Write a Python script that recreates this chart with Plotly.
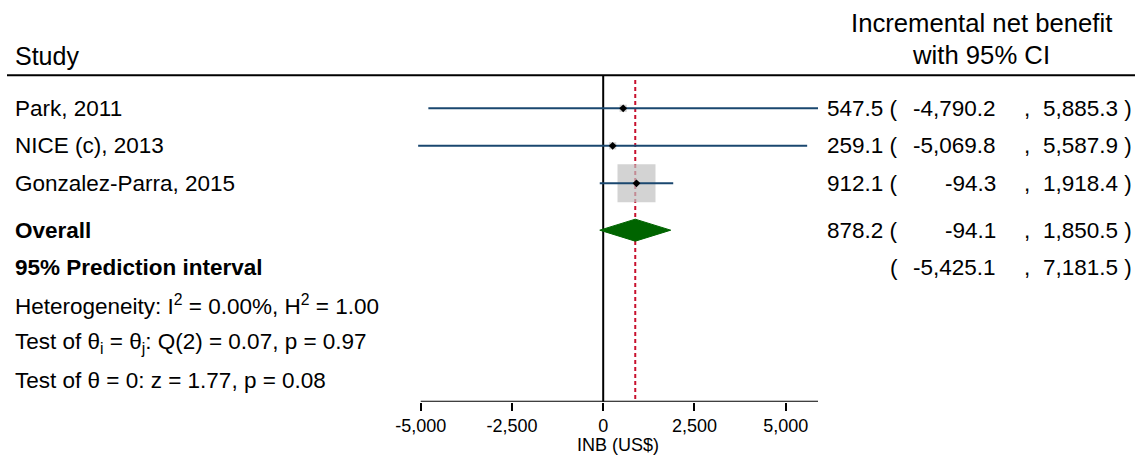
import plotly.graph_objects as go

# ---------------- data ----------------
studies = ["Park, 2011", "NICE (c), 2013", "Gonzalez-Parra, 2015"]
inb = [547.5, 259.1, 912.1]
ci_low = [-4790.2, -5069.8, -94.3]
ci_high = [5885.3, 5587.9, 1918.4]

overall_est = 878.2
overall_low = -94.1
overall_high = 1850.5
pi_low = -5425.1
pi_high = 7181.5

i2 = 0.00
h2 = 1.00
q_stat = 0.07
q_df = 2
q_p = 0.97
z_stat = 1.77
z_p = 0.08

xticks = [-5000, -2500, 0, 2500, 5000]
xtick_labels = ["-5,000", "-2,500", "0", "2,500", "5,000"]

# ---------------- layout helpers ----------------
W, H = 1135, 455
FONT = "Liberation Sans, Arial, sans-serif"

x0_px = 603.2            # pixel of value 0
px_per_unit = 0.0365     # pixels per US$
axis_px = 401.7          # x axis line
row0_px = 108.3          # first study row
row_h = 37.5             # pixels per row

def row_of(px):
    return (px - row0_px) / row_h + 1

x_range = [-x0_px / px_per_unit, (W - x0_px) / px_per_unit]
y_range = [row_of(axis_px), row_of(0)]
y_dom0 = (H - axis_px) / H

study_rows = [1 + i for i in range(len(studies))]
overall_row = 4.25
pi_row = 5.25
het_rows = [6.25, 7.25, 8.25]

# weights from CI width (inverse variance)
se = [(h - l) / (2 * 1.96) for l, h in zip(ci_low, ci_high)]
w = [1 / s ** 2 for s in se]
wmax = max(w)
box_sizes = [38 * (wi / wmax) ** 0.5 for wi in w]

fig = go.Figure()

# weight boxes
fig.add_trace(go.Scatter(
    x=inb, y=study_rows, mode="markers",
    marker=dict(symbol="square", size=box_sizes, color="#c0c0c0", line=dict(width=0)),
    hoverinfo="skip", showlegend=False))

# CI lines
cx, cy = [], []
for l, h, r in zip(ci_low, ci_high, study_rows):
    cx += [l, h, None]
    cy += [r, r, None]
fig.add_trace(go.Scatter(x=cx, y=cy, mode="lines",
                         line=dict(color="#1a476f", width=2),
                         hoverinfo="skip", showlegend=False))

# point estimates
fig.add_trace(go.Scatter(
    x=inb, y=study_rows, mode="markers",
    marker=dict(symbol="diamond", size=6, color="black", line=dict(width=0)),
    hoverinfo="skip", showlegend=False))

# overall diamond
dh = 11 / row_h
fig.add_trace(go.Scatter(
    x=[overall_low, overall_est, overall_high, overall_est, overall_low],
    y=[overall_row, overall_row - dh, overall_row, overall_row + dh, overall_row],
    mode="lines", fill="toself", fillcolor="#006400",
    line=dict(color="#006400", width=1),
    hoverinfo="skip", showlegend=False))

# ---------------- shapes ----------------
hdr_row = row_of(75.3)
shapes = [
    dict(type="line", xref="paper", yref="y", x0=7 / W, x1=1, y0=hdr_row, y1=hdr_row,
         line=dict(color="black", width=2)),
    dict(type="line", xref="x", yref="y", x0=0, x1=0, y0=hdr_row, y1=y_range[0],
         line=dict(color="black", width=2), layer="below"),
    dict(type="line", xref="x", yref="y", x0=overall_est, x1=overall_est,
         y0=row_of(80), y1=y_range[0],
         line=dict(color="#c8102e", width=2, dash="4px,3px"), layer="below"),
    dict(type="line", xref="x", yref="y", x0=xticks[0], x1=max(ci_high),
         y0=y_range[0], y1=y_range[0], line=dict(color="black", width=2)),
]

# ---------------- annotations ----------------
ann = []

def txt(px, y, text, size=22.5, align="left", bold=False):
    if bold:
        text = f"<b>{text}</b>"
    ann.append(dict(x=px / W, y=y, xref="paper", yref="y", text=text, showarrow=False,
                    xanchor=align, yanchor="middle",
                    font=dict(family=FONT, size=size, color="black")))

txt(13, row_of(56), "Study", size=25)
txt(981, row_of(23), "Incremental net benefit", size=25.7, align="center")
txt(981, row_of(55), "with 95% CI", size=25.7, align="center")

for name, r in zip(studies, study_rows):
    txt(13, r, name)
txt(13, overall_row, "Overall", bold=True)
txt(13, pi_row, "95% Prediction interval", bold=True)
txt(13, het_rows[0], f"Heterogeneity: I<sup>2</sup> = {i2:.2f}%, H<sup>2</sup> = {h2:.2f}")
txt(13, het_rows[1], f"Test of θ<sub>i</sub> = θ<sub>j</sub>: Q({q_df}) = {q_stat:.2f}, p = {q_p:.2f}")
txt(13, het_rows[2], f"Test of θ = 0: z = {z_stat:.2f}, p = {z_p:.2f}")

def fmt(v):
    return f"{v:,.1f}"

rows_est = list(zip(inb, ci_low, ci_high, study_rows)) + [(overall_est, overall_low, overall_high, overall_row)]
for est, lo, hi, r in rows_est:
    txt(900, r, fmt(est) + " (", align="right")
    txt(998, r, fmt(lo), align="right")
    txt(1027, r, ",", align="center")
    txt(1134, r, fmt(hi) + " )", align="right")
txt(900, pi_row, "(", align="right")
txt(998, pi_row, fmt(pi_low), align="right")
txt(1027, pi_row, ",", align="center")
txt(1134, pi_row, fmt(pi_high) + " )", align="right")

# axis title
ann.append(dict(x=618 / W, y=1 - 445 / H, xref="paper", yref="paper", text="INB (US$)",
                showarrow=False, xanchor="center", yanchor="middle",
                font=dict(family=FONT, size=18, color="black")))

fig.update_layout(
    width=W, height=H,
    margin=dict(l=0, r=0, t=0, b=0),
    paper_bgcolor="white", plot_bgcolor="white",
    shapes=shapes, annotations=ann, showlegend=False,
    xaxis=dict(domain=[0, 1], range=x_range, showgrid=False, zeroline=False,
               showline=False, ticks="outside", ticklen=8, tickwidth=2, tickcolor="black",
               tickvals=xticks, ticktext=xtick_labels,
               tickfont=dict(family=FONT, size=18, color="black"), automargin=False),
    yaxis=dict(domain=[y_dom0, 1], range=y_range, visible=False, automargin=False),
)

fig.write_html(
    "out.html",
    config={"displayModeBar": False},
    post_script="document.body.style.margin='0';document.body.style.overflow='hidden';",
)
